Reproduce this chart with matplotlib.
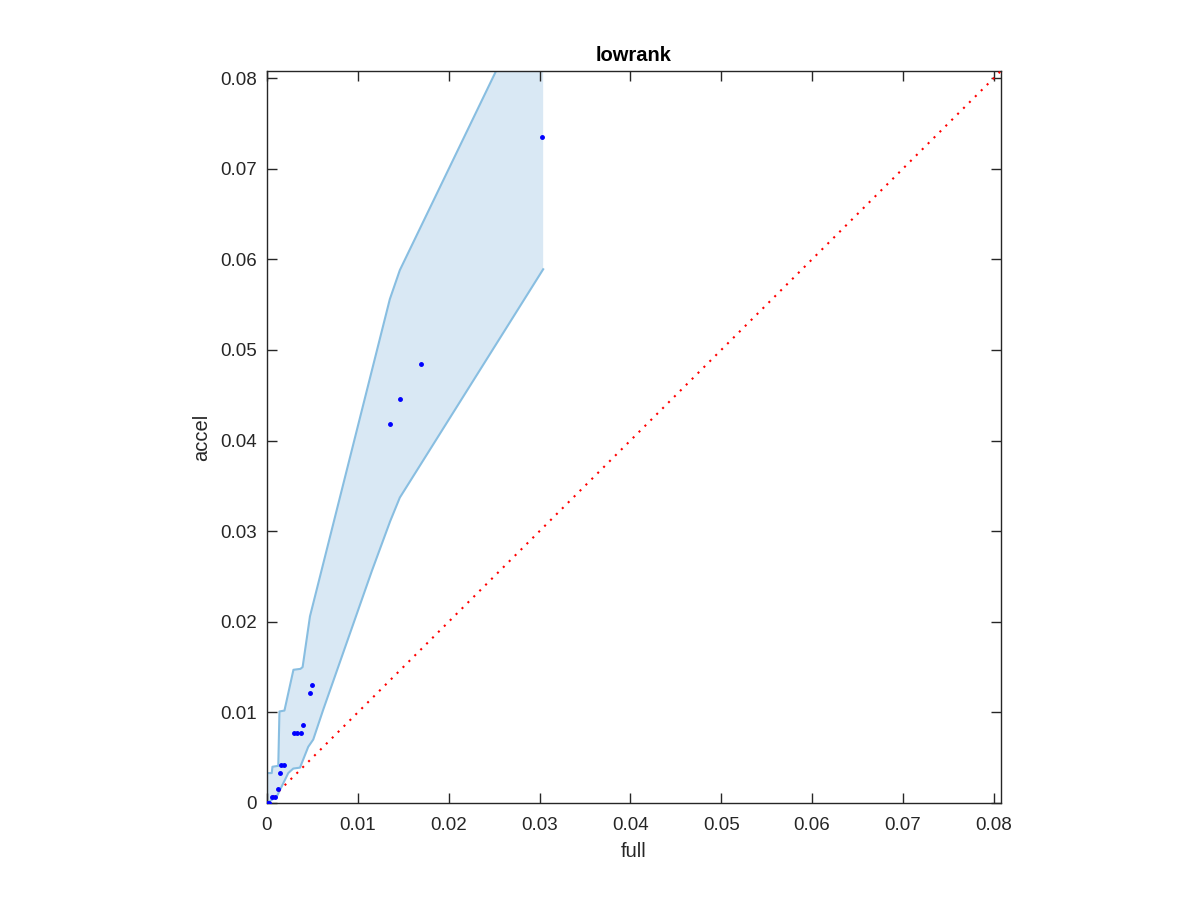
import numpy as np
import matplotlib.pyplot as plt

plt.rcParams['font.family'] = ['Liberation Sans', 'DejaVu Sans']

# band edges (full, accel)
up_x = [0, 0, 0.00052, 0.0006, 0.00124, 0.00137, 0.00192, 0.00291, 0.00368,
        0.00392, 0.00473, 0.01352, 0.01462, 0.02527, 0.0304]
up_y = [0, 0.0033, 0.0033, 0.0040, 0.0041, 0.0101, 0.0102, 0.0147, 0.0148,
        0.0150, 0.0206, 0.0556, 0.0588, 0.0809, 0.0916]
lo_x = [0, 0.00107, 0.00234, 0.00289, 0.00363, 0.00454, 0.00509, 0.00619,
        0.01154, 0.01356, 0.01462, 0.0304]
lo_y = [0, 0.0007, 0.0033, 0.0038, 0.0039, 0.0062, 0.0070, 0.0103,
        0.0256, 0.0311, 0.0337, 0.0589]

# observed points
pt_x = [0.0303, 0.0169, 0.01462, 0.01352, 0.00498, 0.00473, 0.00399,
        0.00302, 0.00335, 0.00374, 0.00154, 0.00192, 0.00146, 0.00126,
        0.0006, 0.00093, 0.00005, 0.0002]
pt_y = [0.0735, 0.0485, 0.0446, 0.0418, 0.0130, 0.0121, 0.0086,
        0.0077, 0.0077, 0.0077, 0.0042, 0.0042, 0.0033, 0.0015,
        0.0007, 0.0007, 0.0, 0.0]

lim = 0.0808

fig = plt.figure(figsize=(12, 9), dpi=100)
ax = fig.add_axes([0.2225, 0.1078, 0.6117, 0.8135])

poly_x = np.concatenate([up_x, lo_x[::-1]])
poly_y = np.concatenate([up_y, lo_y[::-1]])
ax.fill(poly_x, poly_y, color='#d9e8f4', lw=0, zorder=1)
ax.plot(up_x[:-1], up_y[:-1], color='#88bee1', lw=1.5, zorder=2)
ax.plot(lo_x, lo_y, color='#88bee1', lw=1.5, zorder=2)
ax.plot([0, lim], [0, lim], color='red', lw=1.5, ls=(0, (1, 3)), zorder=3)
ax.plot(pt_x, pt_y, '.', color='blue', ms=5, zorder=4)

ax.set_xlim(0, lim)
ax.set_ylim(0, lim)
ticks = np.arange(0, 0.081, 0.01)
labels = ['0'] + [f'{t:.2f}' for t in ticks[1:]]
ax.set_xticks(ticks)
ax.set_xticklabels(labels)
ax.set_yticks(ticks)
ax.set_yticklabels(labels)
ax.tick_params(direction='in', top=True, right=True, length=7, width=1,
               labelsize=13.5, colors='#262626')
ax.tick_params(axis='x', pad=10)
ax.tick_params(axis='y', pad=7.5)
for s in ax.spines.values():
    s.set_color('#262626')
    s.set_linewidth(1)
ax.set_xlabel('full', fontsize=14.5, color='#262626', labelpad=6)
ax.set_ylabel('accel', fontsize=14.5, color='#262626', labelpad=6)
ax.set_title('lowrank', fontsize=14.5, fontweight='bold', pad=7)

fig.savefig('out.png', dpi=100, facecolor='white')
